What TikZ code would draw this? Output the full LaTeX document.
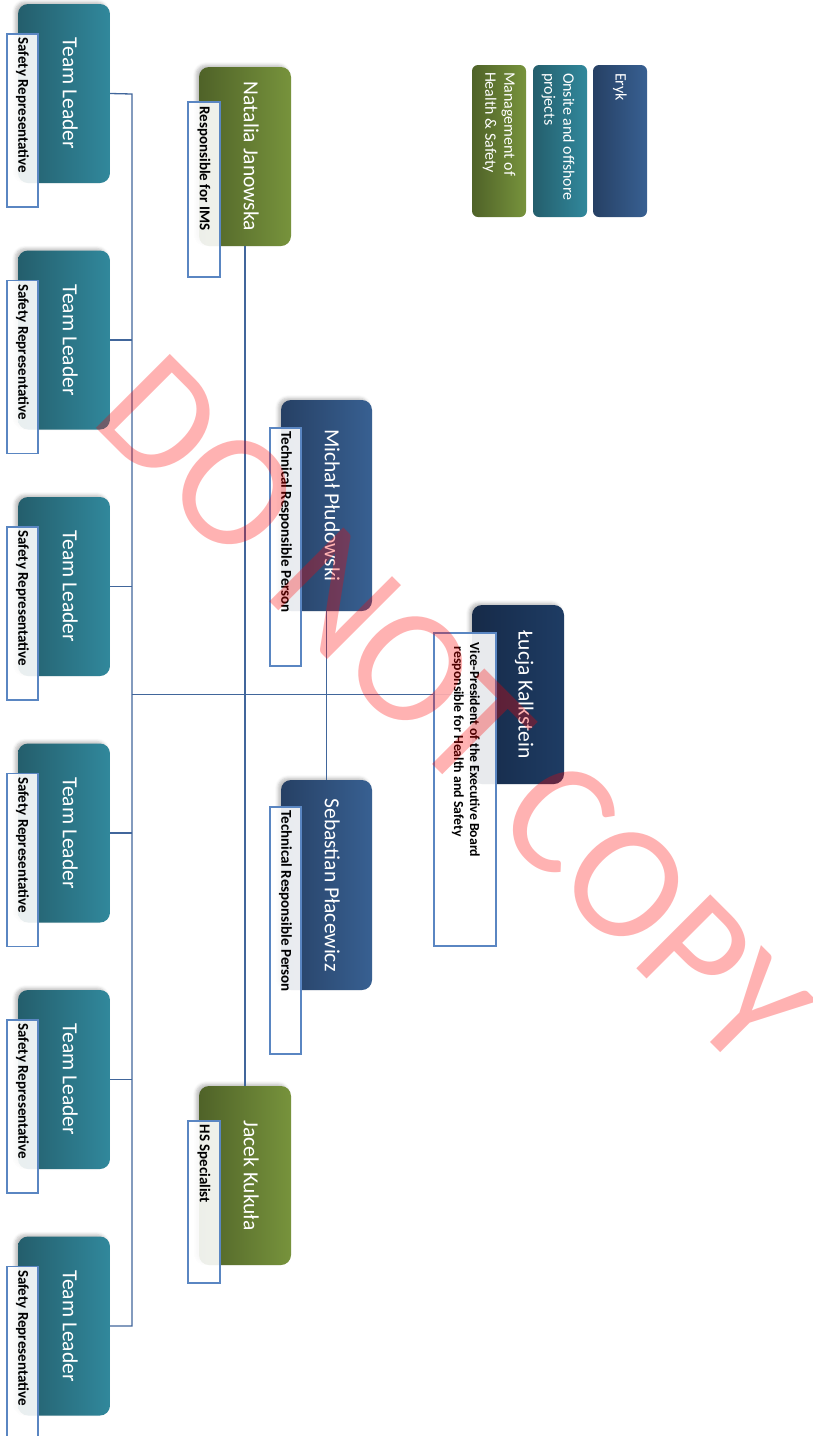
\documentclass[tikz,border=0pt]{standalone}
\usepackage{fontspec}
\setmainfont{Carlito}
\usetikzlibrary{shadows.blur,calc}
\definecolor{tealD}{HTML}{245E6C}
\definecolor{tealL}{HTML}{31889C}
\definecolor{greenD}{HTML}{4F6228}
\definecolor{greenL}{HTML}{77933C}
\definecolor{blueD}{HTML}{264064}
\definecolor{blueL}{HTML}{386092}
\definecolor{navyD}{HTML}{162A48}
\definecolor{navyL}{HTML}{1E3C64}
\definecolor{labblue}{HTML}{5A86C2}
\definecolor{connblue}{HTML}{41669B}
\begin{document}
\begin{tikzpicture}[x=1pt,y=-1pt,
  box/.style={rounded corners=10pt, inner sep=0pt, minimum width=92pt, minimum height=179pt,
    blur shadow={shadow xshift=-3pt, shadow yshift=2pt, shadow opacity=25, shadow blur radius=3pt}},
  tealbox/.style={box, left color=tealD, right color=tealL},
  greenbox/.style={box, left color=greenD, right color=greenL},
  bluebox/.style={box, left color=blueD, right color=blueL, minimum width=91pt},
  navybox/.style={box, left color=navyD, right color=navyL},
  legbox/.style={rounded corners=6pt, inner sep=0pt, minimum width=54pt, minimum height=152pt},
  labbox/.style={draw=labblue, line width=1.3pt, fill=white, fill opacity=0.9, inner sep=0pt, minimum width=31pt},
  nametext/.style={rotate=-90, inner sep=0pt, text=white, font=\fontsize{21.5}{26}\selectfont},
  labtext/.style={rotate=-90, inner sep=0pt, anchor=west, text=black, font=\bfseries\fontsize{15}{18}\selectfont},
  legtext/.style={rotate=-90, inner sep=0pt, anchor=west, text=white, align=left, font=\fontsize{16}{19}\selectfont},
  conn/.style={draw=connblue, line width=1.3pt},
  wm/.style={inner sep=0pt, text=red, text opacity=0.3, font=\fontsize{163}{163}\selectfont}
]
\useasboundingbox (0,0) rectangle (813,1436);

% ---- box positions (for connectors) ----
\foreach \i/\y in {1/93.5,2/340,3/586.5,4/833,5/1079.5,6/1326}{
  \coordinate (tl\i) at (64,\y);
}
\node[greenbox] (nat) at (245,156.5) {};
\node[greenbox] (jac) at (245,1175.5) {};
\node[bluebox, minimum height=211pt] (mic) at (326.5,505.5) {};
\node[bluebox, minimum height=210pt] (seb) at (326.5,885) {};

% legend
\node[legbox, left color=blueD, right color=blueL] (leg1) at (620,141) {};
\node[legbox, left color=tealD, right color=tealL] (leg2) at (560,141) {};
\node[legbox, left color=greenD, right color=greenL] (leg3) at (499,141) {};

% ---- team leader boxes ----
\foreach \i/\y in {1/93.5,2/340,3/586.5,4/833,5/1079.5,6/1326}{
  \node[tealbox] (tlb\i) at (64,\y) {};
}
\node[navybox] (luc) at (518,694.5) {};

% ---- connectors ----
\coordinate (busTop) at (132,94);
\coordinate (busBot) at (132,1326);
\draw[conn] (tlb1.east) -- (busTop) -- (busBot) -- (tlb6.east);
\foreach \i in {2,...,5}{
  \draw[conn] (tlb\i.east) -- (tlb\i.east -| busTop);
}
\draw[conn] (luc.west) -- (luc.west -| busTop);
\draw[conn, line width=1.1pt] (nat.south) -- (jac.north);
\draw[conn, line width=1.1pt] (mic.south) -- (seb.north);

% ---- label boxes and texts ----
\foreach \i/\y in {1/93.5,2/340,3/586.5,4/833,5/1079.5,6/1326}{
  \node[labbox, minimum height=173pt] (tls\i) at (22.5,\y+27) {};
  \node[labtext] (tll\i) at ($(tls\i.north)+(0,4)$) {Safety Representative};
  \node[nametext] (tlt\i) at ($(tlb\i.east)+(-40,0)$) {Team Leader};
}
\node[labbox, minimum width=32pt, minimum height=175pt] (nats) at (204,189.5) {};
\node[labbox, minimum width=32pt, minimum height=162pt] (jacs) at (204,1202) {};
\node[labbox, minimum height=238pt] (mics) at (285.5,547) {};
\node[labbox, minimum height=247pt] (sebs) at (285.5,930.5) {};
\node[labbox, minimum width=62pt, minimum height=313pt] (lucs) at (465,789.5) {};

\node[nametext] (natt) at ($(nat.east)+(-40,0)$) {Natalia Janowska};
\node[nametext] (jact) at ($(jac.east)+(-40,0)$) {Jacek Kukuła};
\node[nametext] (mict) at ($(mic.east)+(-40,0)$) {Michał Płudowski};
\node[nametext] (sebt) at ($(seb.east)+(-40,0)$) {Sebastian Płacewicz};
\node[nametext] (luct) at ($(luc.east)+(-40,0)$) {Łucja Kalkstein};

\node[labtext] (natl) at ($(nats.north)+(0,5)$) {Responsible for IMS};
\node[labtext] (jacl) at ($(jacs.north)+(0,4)$) {HS Specialist};
\node[labtext] (micl) at ($(mics.north)+(0,4)$) {Technical Responsible Person};
\node[labtext] (sebl) at ($(sebs.north)+(0,4)$) {Technical Responsible Person};
\node[labtext, align=left, font=\bfseries\fontsize{13.8}{17}\selectfont] (lucl) at ($(lucs.north)+(1,10)$)
  {Vice-President of the Executive Board\\[-1pt]\hspace{4pt}responsible for Health and Safety};

\node[legtext] (leg1t) at ($(leg1.north)+(0,8)$) {Eryk};
\node[legtext] (leg2t) at ($(leg2.north)+(-2,8)$) {Onsite and offshore\\projects};
\node[legtext] (leg3t) at ($(leg3.north)+(0,7)$) {Management of\\Health \& Safety};

% ---- watermark ----
\node[wm, rotate=-45, anchor=base west] (wmk) at (88,420) {DO NOT COPY};
\end{tikzpicture}
\end{document}
